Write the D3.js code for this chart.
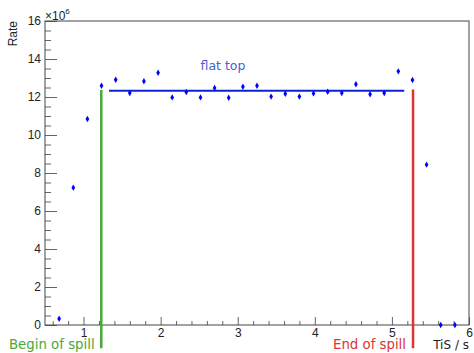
<!DOCTYPE html>
<head>
  <style>
    body { margin: 0; background: #fff; }
    .axis text { font-family: "Liberation Sans", Arial, sans-serif; font-size: 12px; fill: #222; }
    .axis line { stroke: #666; }
    .axis path { display: none; }
    .lbl { font-family: "DejaVu Sans", sans-serif; }
  </style>
<title>Rate vs TiS</title>
</head>
<body>
  <script src="https://cdn.jsdelivr.net/npm/d3@7"></script>
  <script>
    // data (rate in units of 1e6)
    var tis = [0.683, 0.867, 1.05, 1.233, 1.417, 1.6, 1.783, 1.967, 2.15, 2.333,
               2.517, 2.7, 2.883, 3.067, 3.25, 3.433, 3.617, 3.8, 3.983, 4.167,
               4.35, 4.533, 4.717, 4.9, 5.083, 5.267, 5.45, 5.633, 5.817];
    var rate = [0.33, 7.23, 10.84, 12.59, 12.91, 12.21, 12.83, 13.28, 11.98, 12.26,
                11.98, 12.47, 11.96, 12.54, 12.59, 12.02, 12.17, 12.02, 12.19, 12.28,
                12.21, 12.67, 12.14, 12.21, 13.35, 12.89, 8.44, 0, 0];
    var flatTop = {x0: 1.33, x1: 5.16, y: 12.33};
    var spillBegin = 1.23, spillEnd = 5.274;
    var xTicks = [1, 2, 3, 4, 5, 6];
    var yTicks = [0, 2, 4, 6, 8, 10, 12, 14, 16];

    var width = 474, height = 353;
    var margin = {top: 21, right: 5, bottom: 28, left: 45};

    var x = d3.scaleLinear().domain([0.5, 6]).range([margin.left, width - margin.right]);
    var y = d3.scaleLinear().domain([0, 16]).range([height - margin.bottom, margin.top]);

    var svg = d3.select("body").append("svg")
      .attr("width", width)
      .attr("height", height);

    // minor ticks
    var xMinor = d3.range(6, 60, 2).map(function (d) { return d / 10; }).filter(function (d) { return d % 1 != 0; });
    var yMinor = d3.range(1, 32).map(function (d) { return d / 2; }).filter(function (d) { return d % 2 != 0; });

    svg.append("g").attr("class", "axis")
      .attr("transform", "translate(0," + y(0) + ")")
      .call(d3.axisBottom(x).tickValues(xMinor).tickSize(-4).tickFormat(""));
    svg.append("g").attr("class", "axis")
      .attr("transform", "translate(0," + y(0) + ")")
      .call(d3.axisBottom(x).tickValues(xTicks).tickSize(-8).tickPadding(3).tickFormat(d3.format("d")));

    svg.append("g").attr("class", "axis")
      .attr("transform", "translate(" + x(0.5) + ",0)")
      .call(d3.axisLeft(y).tickValues(yMinor).tickSize(-6).tickFormat(""));
    svg.append("g").attr("class", "axis")
      .attr("transform", "translate(" + x(0.5) + ",0)")
      .call(d3.axisLeft(y).tickValues(yTicks).tickSize(-12).tickPadding(4).tickFormat(d3.format("d")));

    // frame
    svg.append("rect")
      .attr("x", x(0.5)).attr("y", y(16))
      .attr("width", x(6) - x(0.5)).attr("height", y(0) - y(16))
      .attr("fill", "none").attr("stroke", "#444").attr("stroke-width", 1);

    // spill markers
    svg.append("line")
      .attr("x1", x(spillBegin)).attr("x2", x(spillBegin))
      .attr("y1", y(12.37)).attr("y2", y(-1.22))
      .attr("stroke", "#4aa83a").attr("stroke-width", 2.5);
    svg.append("line")
      .attr("x1", x(spillEnd)).attr("x2", x(spillEnd))
      .attr("y1", y(12.4)).attr("y2", y(-1.22))
      .attr("stroke", "#d93535").attr("stroke-width", 2.5);

    // flat top line
    svg.append("line")
      .attr("x1", x(flatTop.x0)).attr("x2", x(flatTop.x1))
      .attr("y1", y(flatTop.y)).attr("y2", y(flatTop.y))
      .attr("stroke", "#0a22d8").attr("stroke-width", 2);

    // points
    svg.selectAll(".pt")
      .data(tis)
      .enter().append("path")
      .attr("class", "pt")
      .attr("d", d3.symbol().type(d3.symbolDiamond).size(12))
      .attr("transform", function (d, i) { return "translate(" + x(d) + "," + y(rate[i]) + ")"; })
      .attr("fill", "#0000ff");

    // labels
    svg.append("text").attr("class", "lbl")
      .attr("x", 223).attr("y", 70)
      .style("text-anchor", "middle")
      .style("font-size", "12.5px")
      .attr("fill", "#4a5fd0")
      .text("flat top");

    svg.append("text").attr("class", "lbl")
      .attr("x", 9).attr("y", 349)
      .style("font-size", "13.3px")
      .attr("fill", "#4aa83a")
      .text("Begin of spill");

    svg.append("text").attr("class", "lbl")
      .attr("x", 333).attr("y", 349)
      .style("font-size", "13.3px")
      .attr("fill", "#d93535")
      .text("End of spill");

    svg.append("text").attr("class", "lbl")
      .attr("x", x(6)).attr("y", 349)
      .style("text-anchor", "end")
      .style("font-size", "12px")
      .attr("fill", "#222")
      .text("TiS / s");

    svg.append("text")
      .attr("transform", "translate(17," + y(16) + ") rotate(-90)")
      .style("text-anchor", "end")
      .style("font-family", "Liberation Sans, Arial, sans-serif")
      .style("font-size", "12px")
      .attr("fill", "#222")
      .text("Rate");

    // exponent
    var ex = svg.append("text")
      .attr("x", x(0.5)).attr("y", 20)
      .style("font-family", "Liberation Sans, Arial, sans-serif")
      .style("font-size", "12px")
      .attr("fill", "#222");
    ex.append("tspan").text("\u00d710");
    ex.append("tspan").attr("dy", -6).style("font-size", "8px").text("6");
  </script>
</body>
